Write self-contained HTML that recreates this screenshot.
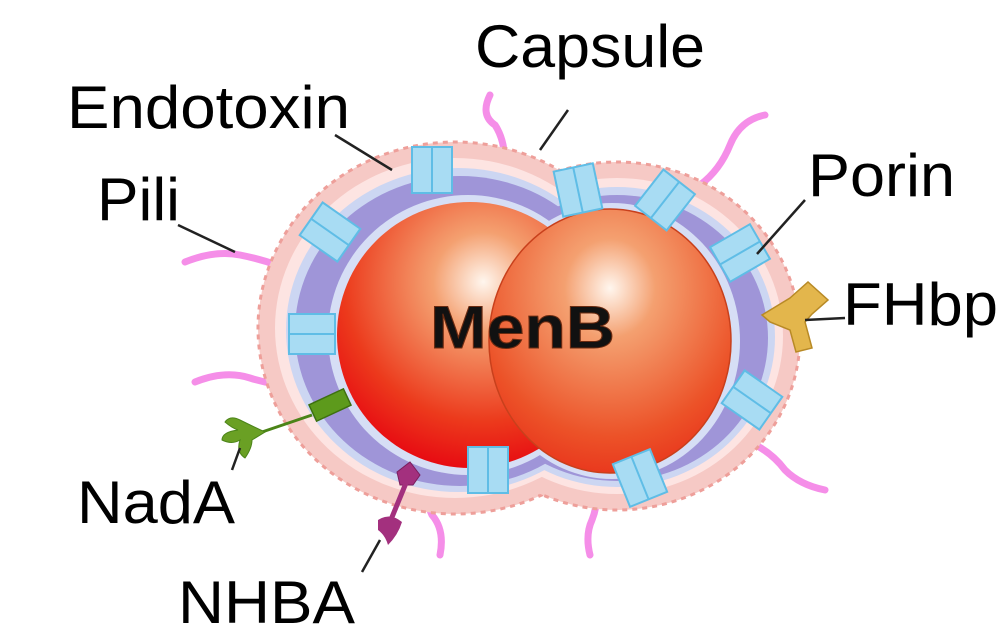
<!DOCTYPE html>
<html><head><meta charset="utf-8"><style>
html,body{margin:0;padding:0;background:#fff;}
svg{display:block;}
text{font-family:"Liberation Sans",sans-serif;}
</style></head><body>
<svg width="1000" height="640" viewBox="0 0 1000 640" xmlns="http://www.w3.org/2000/svg">
<defs>
<radialGradient id="sp1" cx="0.55" cy="0.3" r="0.75">
<stop offset="0" stop-color="#fff6ee"/><stop offset="0.25" stop-color="#f4a070"/><stop offset="0.7" stop-color="#ec3a1c"/><stop offset="1" stop-color="#e60010"/>
</radialGradient>
<radialGradient id="sp2" cx="0.5" cy="0.3" r="0.75">
<stop offset="0" stop-color="#fff6ee"/><stop offset="0.25" stop-color="#f4a070"/><stop offset="0.75" stop-color="#ec5228"/><stop offset="1" stop-color="#e8301a"/>
</radialGradient>
<g id="porin">
<rect x="-20" y="-23" width="40" height="46" fill="#a8dcf3" stroke="#5fbde6" stroke-width="2"/>
<line x1="0" y1="-23" x2="0" y2="23" stroke="#5fbde6" stroke-width="2"/>
</g>
</defs>
<g fill="none" stroke="#f58ee8" stroke-width="7" stroke-linecap="round">
<path d="M185 262 Q215 250 240 255 Q275 262 300 275"/>
<path d="M195 382 Q225 370 250 378 Q275 386 300 385"/>
<path d="M490 95 Q480 115 495 125 Q505 140 505 165"/>
<path d="M765 115 Q740 120 730 145 Q720 170 700 185"/>
<path d="M825 490 Q800 485 785 470 Q770 450 745 440"/>
<path d="M440 555 Q445 530 432 515 Q425 500 425 485"/>
<path d="M590 555 Q585 535 592 520 Q598 505 596 490"/>
</g>
<g fill="#f6c9c5" stroke="#ee9f9a" stroke-width="3" stroke-dasharray="5 5">
<ellipse cx="455" cy="328" rx="197" ry="186"/>
<ellipse cx="617" cy="336" rx="183" ry="174"/>
</g>
<g fill="#f6c9c5">
<ellipse cx="455" cy="328" rx="195" ry="184"/>
<ellipse cx="617" cy="336" rx="181" ry="172"/>
</g>
<g fill="#fde4e2">
<ellipse cx="455" cy="328" rx="180" ry="170"/>
<ellipse cx="617" cy="336" rx="166" ry="158"/>
</g>
<g fill="#ccd6f2">
<ellipse cx="458" cy="330" rx="172" ry="162"/>
<ellipse cx="617" cy="337" rx="158" ry="150"/>
</g>
<g fill="#9f95d8">
<ellipse cx="460" cy="331" rx="165" ry="155"/>
<ellipse cx="617" cy="338" rx="151" ry="143"/>
</g>
<g fill="#d6def5">
<ellipse cx="468" cy="335" rx="140" ry="140"/>
<ellipse cx="612" cy="341" rx="128" ry="138"/>
</g>
<circle cx="470" cy="335" r="133" fill="url(#sp1)"/>
<ellipse cx="610" cy="341" rx="121" ry="132" fill="url(#sp2)" stroke="#c8401c" stroke-width="1.5"/>
<use href="#porin" transform="translate(432,170)"/>
<use href="#porin" transform="translate(578,190) rotate(-12)"/>
<use href="#porin" transform="translate(665,200) rotate(38)"/>
<use href="#porin" transform="translate(740,253) rotate(60)"/>
<use href="#porin" transform="translate(752,400) rotate(-55)"/>
<use href="#porin" transform="translate(640,478) rotate(-22)"/>
<use href="#porin" transform="translate(488,470)"/>
<use href="#porin" transform="translate(312,334) rotate(90)"/>
<use href="#porin" transform="translate(330,232) rotate(-55)"/>
<rect x="-19" y="-9" width="38" height="18" fill="#5d9a1c" stroke="#3e7010" stroke-width="1.5" transform="translate(330,405) rotate(-25)"/>
<line x1="312" y1="415" x2="262" y2="432" stroke="#4b8418" stroke-width="3"/>
<path d="M265 432 Q250 425 240 420 Q230 415 225 422 Q232 428 238 430 Q222 432 222 440 Q232 445 240 440 Q236 452 245 458 Q252 448 252 440 Z" fill="#6aa024" stroke="#4b8418"/>
<path d="M397 472 L410 462 L420 475 L413 485 L400 485 Z" fill="#a3307e" stroke="#7a1e5d"/>
<line x1="406" y1="483" x2="390" y2="522" stroke="#a3307e" stroke-width="5"/>
<path d="M378 520 Q390 512 402 522 Q398 535 388 545 Q385 535 378 530 Z" fill="#a3307e"/>
<path d="M790 298 L808 282 L828 300 L812 314 L805 322 L812 348 L796 352 L790 330 L770 322 L762 315 Z" fill="#e3b64c" stroke="#b88a26" stroke-width="1.5"/>
<text x="430" y="348" font-size="60" font-weight="bold" fill="#111" font-family="DejaVu Sans, sans-serif" stroke="#6a2a10" stroke-width="1" textLength="185" lengthAdjust="spacingAndGlyphs">MenB</text>
<g stroke="#222" stroke-width="2.5">
<line x1="335" y1="135" x2="392" y2="170"/>
<line x1="178" y1="225" x2="235" y2="252"/>
<line x1="568" y1="110" x2="540" y2="150"/>
<line x1="805" y1="200" x2="757" y2="254"/>
<line x1="845" y1="318" x2="805" y2="320"/>
<line x1="232" y1="470" x2="240" y2="448"/>
<line x1="362" y1="572" x2="380" y2="540"/>
</g>
<g font-size="60" fill="#000" lengthAdjust="spacingAndGlyphs">
<text x="475" y="67" textLength="230" lengthAdjust="spacingAndGlyphs">Capsule</text>
<text x="67" y="128" textLength="283" lengthAdjust="spacingAndGlyphs">Endotoxin</text>
<text x="97" y="220" textLength="83" lengthAdjust="spacingAndGlyphs">Pili</text>
<text x="808" y="196" textLength="147" lengthAdjust="spacingAndGlyphs">Porin</text>
<text x="843" y="325" textLength="155" lengthAdjust="spacingAndGlyphs">FHbp</text>
<text x="77" y="523" textLength="158" lengthAdjust="spacingAndGlyphs">NadA</text>
<text x="178" y="623" textLength="177" lengthAdjust="spacingAndGlyphs">NHBA</text>
</g>
</svg>
</body></html>
